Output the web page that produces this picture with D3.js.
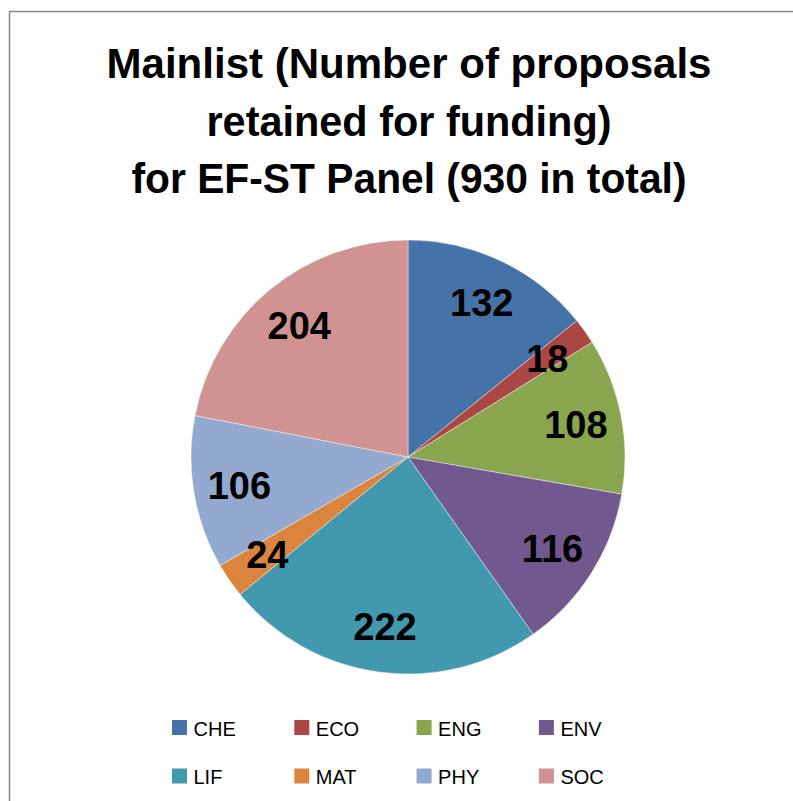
<!DOCTYPE html>
<html>
<head>
  <meta charset="utf-8">
  <title>Mainlist EF-ST pie</title>
  <style>
  body {
    margin: 0;
    background: #fff;
  }
  svg text {
    font-family: "Liberation Sans", Arial, sans-serif;
  }
</style>
</head>
<body>
  <div id="viz"></div>

  <script src="https://cdn.jsdelivr.net/npm/d3@7"></script>
  <script>
    // data
    const panels = ["CHE", "ECO", "ENG", "ENV", "LIF", "MAT", "PHY", "SOC"];
    const proposals = [132, 18, 108, 116, 222, 24, 106, 204];
    const colours = ["#4572A7", "#AA4643", "#89A54E", "#71588F", "#4198AF", "#DB843D", "#93A9CF", "#D19392"];
    const titleLines = [
      "Mainlist (Number of proposals",
      "retained for funding)",
      "for EF-ST Panel (930 in total)"
    ];

    let svgWidth = 793;
    let svgHeight = 801;
    let svg = d3.select("#viz")
      .append("svg")
      .attr("width", svgWidth)
      .attr("height", svgHeight);

    // chart area border (runs off the right / bottom of the picture)
    svg.append("rect")
      .attr("x", 9.5)
      .attr("y", 11.5)
      .attr("width", 820)
      .attr("height", 820)
      .attr("fill", "#fff")
      .attr("stroke", "#888")
      .attr("stroke-width", 1.5);

    // title, squeezed to the narrow look of the original face
    let titleWidths = [605, 405, 555];
    let title = svg.append("g");
    titleLines.forEach((t, i) => {
      title.append("text")
        .attr("x", 409)
        .attr("y", 78 + i * 57.5)
        .attr("text-anchor", "middle")
        .attr("font-size", 42)
        .attr("font-weight", "bold")
        .attr("textLength", titleWidths[i])
        .attr("lengthAdjust", "spacingAndGlyphs")
        .text(t);
    });

    // pie
    let cx = 408, cy = 457, radius = 217;
    let data = panels.map((p, i) => ({panel: p, value: proposals[i]}));
    let colour = d3.scaleOrdinal().domain(panels).range(colours);

    let pie = d3.pie()
      .sort(null)
      .value(d => d.value);
    let arcs = pie(data);

    let arc = d3.arc().innerRadius(0).outerRadius(radius);
    let labelArc = d3.arc().innerRadius(171).outerRadius(171);

    let g = svg.append("g")
      .attr("transform", `translate(${cx},${cy})`);

    g.selectAll("path.slice")
      .data(arcs)
      .join("path")
      .attr("class", "slice")
      .attr("d", arc)
      .attr("fill", d => colour(d.data.panel))
      .attr("stroke", "#fff")
      .attr("stroke-width", 0.6)
      .attr("stroke-opacity", 0.7);

    g.selectAll("text.label")
      .data(arcs)
      .join("text")
      .attr("class", "label")
      .attr("transform", d => `translate(${labelArc.centroid(d)})`)
      .attr("text-anchor", "middle")
      .attr("dy", "0.36em")
      .attr("font-size", 38)
      .attr("font-weight", "bold")
      .attr("fill", "#000")
      .text(d => d.data.value);

    // legend, 4 per row
    let legend = svg.append("g");
    let item = legend.selectAll("g")
      .data(panels)
      .join("g")
      .attr("transform", (d, i) => `translate(${172 + (i % 4) * 122.3},${720 + Math.floor(i / 4) * 48.5})`);

    item.append("rect")
      .attr("width", 15)
      .attr("height", 15)
      .attr("fill", d => colour(d));

    item.append("text")
      .attr("x", 21.5)
      .attr("y", 15.5)
      .attr("font-size", 20)
      .attr("fill", "#000")
      .text(d => d);
  </script>
</body>
</html>
